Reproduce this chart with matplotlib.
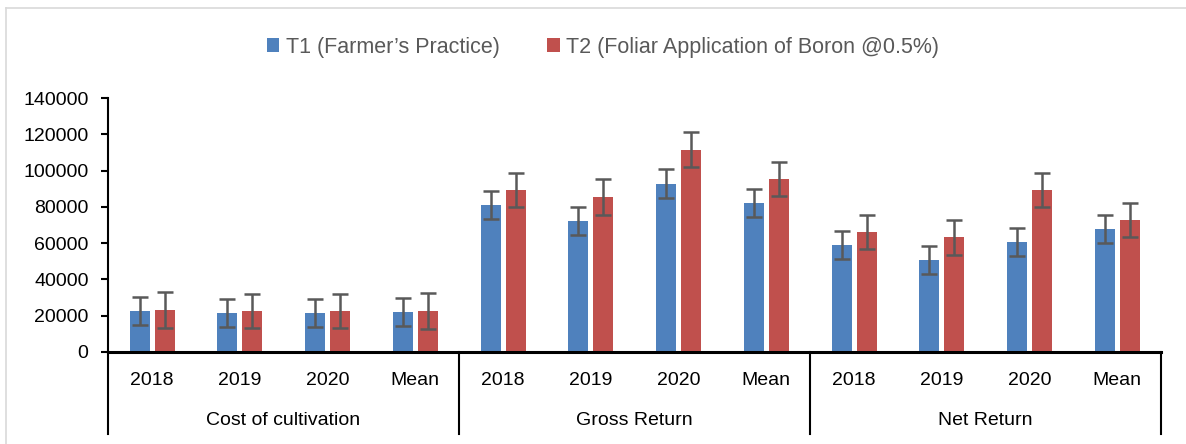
import numpy as np
import matplotlib.pyplot as plt
from matplotlib.lines import Line2D

plt.rcParams['font.family'] = ['Liberation Sans', 'DejaVu Sans']

groups = ["Cost of cultivation", "Gross Return", "Net Return"]
years = ["2018", "2019", "2020", "Mean"]

t1 = [22500, 21400, 21400, 21900,
      81000, 72200, 92800, 82200,
      58800, 50800, 60400, 67800]
t2 = [23000, 22500, 22500, 22500,
      89200, 85500, 111600, 95400,
      66000, 63200, 89300, 72800]
t1_err = [7600, 7700, 7700, 7600,
          7800, 7800, 8000, 7700,
          7700, 7800, 7800, 7700]
t2_err = [9800, 9400, 9400, 9800,
          9500, 9700, 9600, 9600,
          9500, 9600, 9600, 9500]

W, H = 1186, 444
fig = plt.figure(figsize=(W / 100, H / 100), dpi=100)
ax = fig.add_axes([108 / W, (H - 351.7) / H, (1161 - 108) / W, (351.7 - 98.3) / H])

n = len(t1)
x = np.arange(n) + 0.5
bw = 0.228
blue = '#4F81BD'
red = '#C0504D'
ebc = '#595959'

ax.bar(x - 0.14, t1, width=bw, color=blue, label="T1 (Farmer\u2019s Practice)", zorder=2)
ax.bar(x + 0.145, t2, width=bw, color=red, label="T2 (Foliar Application of Boron @0.5%)", zorder=2)
ax.errorbar(x - 0.14, t1, yerr=t1_err, fmt='none', ecolor=ebc, elinewidth=1.8,
            capsize=6, capthick=1.8, zorder=3)
ax.errorbar(x + 0.145, t2, yerr=t2_err, fmt='none', ecolor=ebc, elinewidth=1.8,
            capsize=6, capthick=1.8, zorder=3)

ax.set_xlim(0, n)
ax.set_ylim(0, 140000)
ax.set_yticks(np.arange(0, 140001, 20000))
ax.tick_params(axis='y', labelsize=14, length=5, width=1.5, direction='out', pad=9)
ax.set_xticks([])
for s in ['top', 'right']:
    ax.spines[s].set_visible(False)
ax.spines['left'].set_linewidth(1.5)
ax.spines['bottom'].set_linewidth(2.2)

# hierarchical category labels
depth = (434 - 351.7) / (351.7 - 98.3)
for i, xi in enumerate(x):
    ax.text(xi, -0.115, years[i % 4], transform=ax.get_xaxis_transform(),
            ha='center', va='center', fontsize=14)
for g, name in enumerate(groups):
    ax.text(g * 4 + 2, -0.27, name, transform=ax.get_xaxis_transform(),
            ha='center', va='center', fontsize=14)
for b in range(0, n + 1, 4):
    ax.add_line(Line2D([b, b], [0, -depth], transform=ax.get_xaxis_transform(),
                       color='black', lw=1.5, clip_on=False))

fig.legend(loc='center', bbox_to_anchor=(603 / W, (H - 47) / H), ncol=2, frameon=False,
           fontsize=15.5, handlelength=0.6, handleheight=0.6, handletextpad=0.3,
           columnspacing=2.2, labelcolor='#595959')

# chart area border
fig.add_artist(Line2D([6 / W, 1], [(H - 8) / H] * 2, transform=fig.transFigure,
                      color='#D9D9D9', lw=1.2))
fig.add_artist(Line2D([6 / W] * 2, [0, (H - 8) / H], transform=fig.transFigure,
                      color='#D9D9D9', lw=1.2))

fig.savefig('out.png', dpi=100)
